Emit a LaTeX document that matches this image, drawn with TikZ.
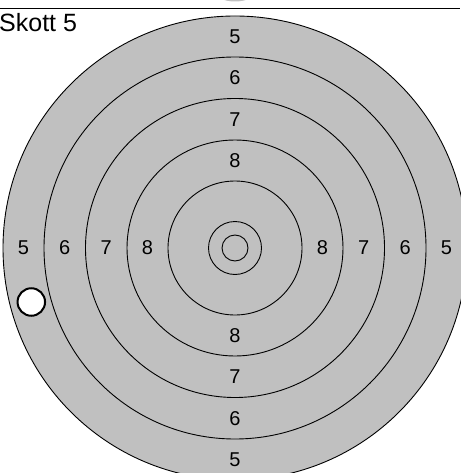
\documentclass[tikz,border=0pt]{standalone}
\usepackage{fontspec}
\setmainfont{Liberation Sans}
\usetikzlibrary{positioning}
\definecolor{targetgray}{HTML}{C0C0C0}

\tikzset{
  ring/.style={draw=black, line width=0.9pt},
  score/.style={inner sep=0pt, font=\fontsize{20}{21}\selectfont},
  hole/.style={circle, draw=black, fill=white, line width=2pt, minimum size=27.5pt, inner sep=0pt}
}

\begin{document}
\begin{tikzpicture}[x=1pt,y=-1pt]
\useasboundingbox (0,0) rectangle (460,473);

% Previous target, just visible
\fill[targetgray] (235,-38.5) circle (40);

% Header rule
\draw[line width=1.3pt] (0,8.5) -- (460,8.5);
\node[anchor=base west, inner sep=0pt, font=\fontsize{25}{26}\selectfont] (title) at (-1,31.5) {Skott 5};

% Target face
\fill[targetgray] (235,248) circle (232);
\draw[ring] (235,248) circle (232);
\draw[ring] (235,248) circle (191);
\draw[ring] (235,248) circle (149.5);
\draw[ring] (235,248) circle (108);
\draw[ring] (235,248) circle (67);
\draw[ring] (235,248) circle (26.5);
\draw[ring] (235,248) circle (13);

% Scores, vertical
\node[score] (t5) at (235,36.5) {5};
\node[score] (t6) at (235,77.75) {6};
\node[score] (t7) at (235,119.25) {7};
\node[score] (t8) at (235,160.5) {8};
\node[score] (b8) at (235,335.5) {8};
\node[score] (b7) at (235,376.75) {7};
\node[score] (b6) at (235,418.25) {6};
\node[score] (b5) at (235,459.5) {5};

% Scores, horizontal
\node[score] (l5) at (23.5,248) {5};
\node[score] (l6) at (64.75,248) {6};
\node[score] (l7) at (106.25,248) {7};
\node[score] (l8) at (147.5,248) {8};
\node[score] (r8) at (322.5,248) {8};
\node[score] (r7) at (363.75,248) {7};
\node[score] (r6) at (405.25,248) {6};
\node[score] (r5) at (446.5,248) {5};

% Shot
\node[hole] (shot) at (31.3,302) {};

\end{tikzpicture}
\end{document}
